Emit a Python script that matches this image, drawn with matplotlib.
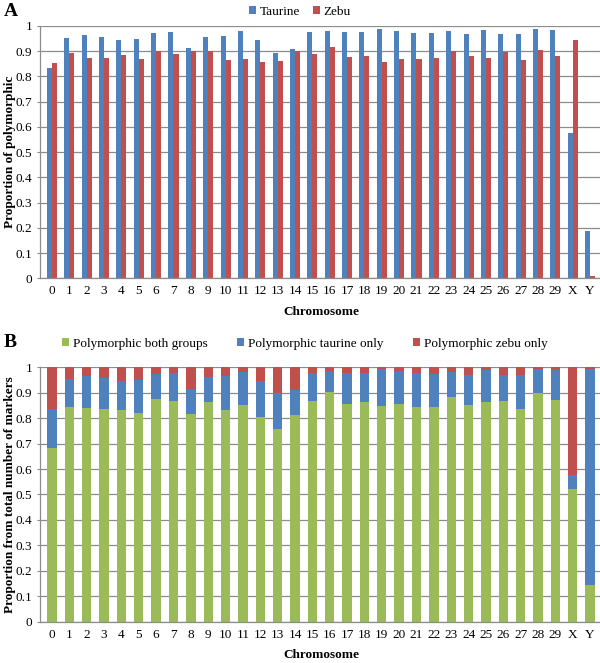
import numpy as np
import matplotlib
matplotlib.use("Agg")
from matplotlib import pyplot as plt
from matplotlib.ticker import FuncFormatter

plt.rcParams["font.family"] = ["Liberation Serif", "DejaVu Serif"]

# Chromosome labels
chromosomes = [str(i) for i in range(30)] + ["X", "Y"]

# Panel A: proportion of polymorphic markers
taurine = [0.832, 0.950, 0.963, 0.956, 0.944, 0.947, 0.970, 0.974, 0.911, 0.956,
           0.961, 0.980, 0.943, 0.893, 0.910, 0.974, 0.981, 0.976, 0.976, 0.988,
           0.981, 0.972, 0.970, 0.978, 0.966, 0.985, 0.966, 0.966, 0.988, 0.985,
           0.575, 0.187]
zebu = [0.851, 0.892, 0.874, 0.873, 0.885, 0.869, 0.902, 0.889, 0.902, 0.902,
        0.865, 0.870, 0.856, 0.861, 0.899, 0.889, 0.918, 0.878, 0.882, 0.857,
        0.869, 0.869, 0.873, 0.902, 0.881, 0.873, 0.898, 0.866, 0.903, 0.881,
        0.943, 0.009]

# Panel B: stacked proportions (both, taurine only, zebu only)
both = [0.684, 0.845, 0.840, 0.836, 0.834, 0.820, 0.877, 0.868, 0.817, 0.864,
        0.831, 0.853, 0.803, 0.756, 0.813, 0.868, 0.904, 0.857, 0.865, 0.849,
        0.855, 0.845, 0.845, 0.885, 0.852, 0.862, 0.869, 0.836, 0.898, 0.872,
        0.522, 0.144]
both_plus_taurine = [0.835, 0.954, 0.967, 0.959, 0.946, 0.950, 0.974, 0.978, 0.915, 0.962,
                     0.965, 0.983, 0.945, 0.898, 0.912, 0.977, 0.984, 0.979, 0.979, 0.992,
                     0.984, 0.976, 0.974, 0.982, 0.969, 0.990, 0.969, 0.969, 0.992, 0.990,
                     0.577, 0.992]
taurine_only = [bt - b for bt, b in zip(both_plus_taurine, both)]
zebu_only = [1 - bt for bt in both_plus_taurine]

BLUE = "#4F81BD"
RED = "#C0504D"
GREEN = "#9BBB59"
GRID = "#8c8c8c"
FS = 9.5


def style_axes(ax, ylabel):
    ax.set_ylim(0, 1)
    ax.set_xlim(-0.69, 31.69)
    ax.set_yticks(np.arange(0, 1.01, 0.1))
    ax.yaxis.set_major_formatter(FuncFormatter(lambda v, p: "%g" % round(v, 1)))
    ax.set_xticks(range(len(chromosomes)))
    ax.set_xticklabels(chromosomes)
    ax.grid(axis="y", color=GRID, linewidth=0.9)
    ax.set_axisbelow(True)
    for s in ["top", "right"]:
        ax.spines[s].set_visible(False)
    for s in ["left", "bottom"]:
        ax.spines[s].set_color(GRID)
        ax.spines[s].set_linewidth(0.9)
    ax.tick_params(axis="x", length=0, pad=5, labelsize=FS)
    ax.tick_params(axis="y", length=2.5, color=GRID, pad=3, labelsize=FS)
    ax.set_xlabel("Chromosome", fontweight="bold", fontsize=FS, labelpad=6)
    ax.set_ylabel(ylabel, fontweight="bold", fontsize=FS, va="center")
    ax.yaxis.set_label_coords(-0.053, 0.5)


fig = plt.figure(figsize=(6.0, 6.63), dpi=100)
x = np.arange(len(chromosomes))

# Panel A
axA = fig.add_axes([0.0667, 0.580, 0.9367, 0.381])
w = 0.29
axA.bar(x - w / 2, taurine, w, color=BLUE, label="Taurine")
axA.bar(x + w / 2, zebu, w, color=RED, label="Zebu")
style_axes(axA, "Proportion of polymorphic")
axA.legend(loc="center", bbox_to_anchor=(0.5, 1 - 12 / 663), bbox_transform=fig.transFigure,
           ncol=2, frameon=False, fontsize=FS, handlelength=0.55, handleheight=0.55,
           handletextpad=0.3, columnspacing=0.9)
fig.text(0.006, 1 - 12 / 663, "A", fontsize=14, fontweight="bold", va="center")

# Panel B
axB = fig.add_axes([0.0667, 0.0623, 0.9367, 0.3837])
wb = 0.54
axB.bar(x, both, wb, color=GREEN, label="Polymorphic both groups")
axB.bar(x, taurine_only, wb, bottom=both, color=BLUE, label="Polymorphic taurine only")
axB.bar(x, zebu_only, wb, bottom=both_plus_taurine, color=RED, label="Polymorphic zebu only")
style_axes(axB, "Proportion from total number of markers")
axB.legend(loc="center", bbox_to_anchor=(0.508, 1 - 344 / 663), bbox_transform=fig.transFigure,
           ncol=3, frameon=False, fontsize=FS, handlelength=0.55, handleheight=0.55,
           handletextpad=0.3, columnspacing=2.2)
fig.text(0.006, 1 - 342 / 663, "B", fontsize=14, fontweight="bold", va="center")

fig.savefig("out.png", dpi=100)
